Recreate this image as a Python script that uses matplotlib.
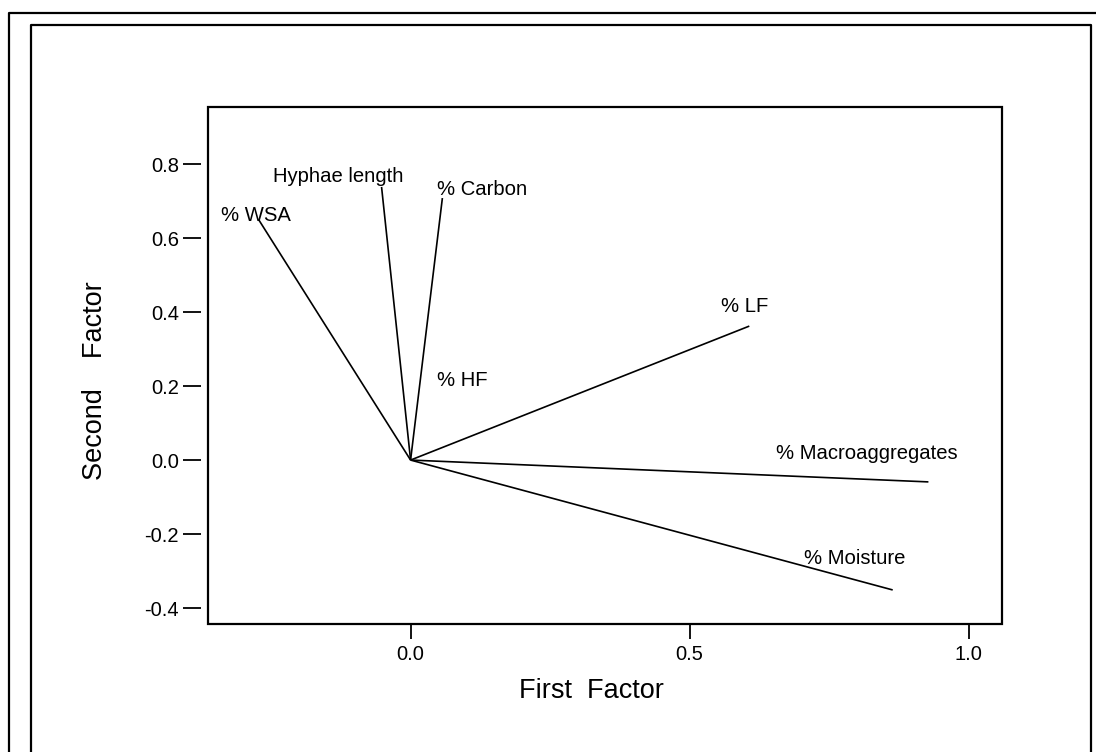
import numpy as np
import matplotlib
matplotlib.use('Agg')
import matplotlib.pyplot as plt
from matplotlib.lines import Line2D
from matplotlib.patches import Rectangle

plt.rcParams['font.family'] = ['Liberation Sans', 'DejaVu Sans']

# Factor loadings (first factor, second factor)
variables = ['% WSA', 'Hyphae length', '% Carbon', '% HF', '% LF',
             '% Macroaggregates', '% Moisture']
first_factor = [-0.272, -0.052, 0.057, 0.0, 0.607, 0.928, 0.864]
second_factor = [0.649, 0.738, 0.708, 0.0, 0.362, -0.059, -0.351]

# Where each variable name sits (data coords, left edge / vertical centre)
label_x = [-0.340, -0.246, 0.048, 0.048, 0.557, 0.655, 0.705]
label_y = [0.662, 0.765, 0.730, 0.216, 0.414, 0.019, -0.265]

xticks = [0.0, 0.5, 1.0]
yticks = [-0.4, -0.2, 0.0, 0.2, 0.4, 0.6, 0.8]

W, H = 1096.0, 752.0
fig = plt.figure(figsize=(W / 100, H / 100), dpi=100)
ax = fig.add_axes([0.1898, 0.1702, 0.7245, 0.6875])

# Loading vectors from the origin
for fx, fy in zip(first_factor, second_factor):
    ax.plot([0, fx], [0, fy], color='black', lw=1.2, solid_capstyle='butt')

for name, lx, ly in zip(variables, label_x, label_y):
    ax.text(lx, ly, name, ha='left', va='center', fontsize=14.6)

ax.set_xlim(-0.363, 1.060)
ax.set_ylim(-0.443, 0.954)

ax.set_xticks(xticks)
ax.set_xticklabels(['%.1f' % t for t in xticks])
ax.set_yticks(yticks)
ax.set_yticklabels(['%.1f' % t for t in yticks])

# y ticks stand a little away from the frame
ax.spines['left'].set_position(('outward', 5))
for s in ax.spines.values():
    s.set_color('none')
ax.add_patch(Rectangle((0, 0), 1, 1, transform=ax.transAxes, fill=False,
                       lw=1.6, edgecolor='black', clip_on=False))

ax.tick_params(axis='y', direction='out', length=13, width=1.3, pad=3,
               labelsize=14.5)
ax.tick_params(axis='x', direction='out', length=11, width=1.3, pad=4,
               labelsize=14.5)

fig.text(591 / W, 1 - 691 / H, 'First  Factor', fontsize=19.5,
         ha='center', va='center')
fig.text(95 / W, 1 - 381 / H, 'Second    Factor', fontsize=19.5,
         ha='center', va='center', rotation=90)

# Double page frame around the figure
fig.add_artist(Line2D([9 / W, 9 / W, 1.0], [0.0, 1 - 13 / H, 1 - 13 / H],
                      transform=fig.transFigure, color='black', lw=1.6))
fig.add_artist(Line2D([31 / W, 31 / W, 1091 / W, 1091 / W],
                      [0.0, 1 - 25 / H, 1 - 25 / H, 0.0],
                      transform=fig.transFigure, color='black', lw=1.6))

fig.savefig('out.png', dpi=100)
